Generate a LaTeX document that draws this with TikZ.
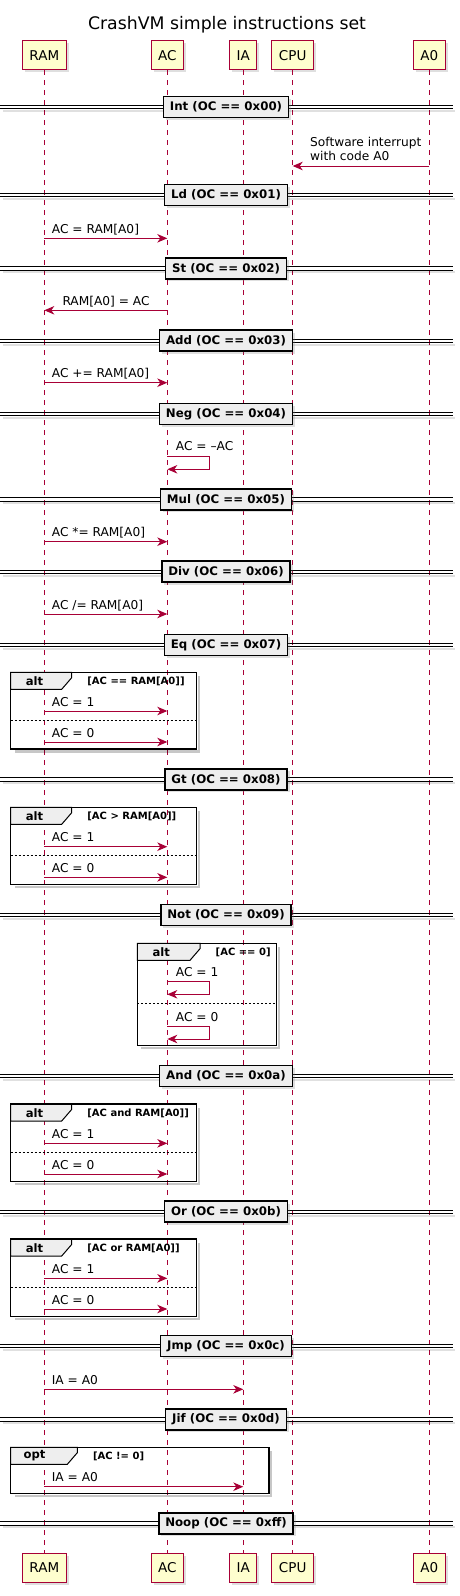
\documentclass[tikz,border=0pt]{standalone}
\usepackage{fontspec}
\setmainfont{DejaVu Sans}
\usetikzlibrary{arrows.meta,shadows}
\definecolor{pred}{HTML}{A80036}
\definecolor{pyel}{HTML}{FEFECE}
\definecolor{pgray}{HTML}{EEEEEE}
\newcommand\fTitle{\fontsize{17.3}{20}\selectfont}
\newcommand\fPart{\fontsize{13.5}{16}\selectfont}
\newcommand\fMsg{\fontsize{12.2}{14.3}\selectfont}
\newcommand\fDiv{\fontsize{11.8}{14}\selectfont\bfseries}
\newcommand\fAlt{\fontsize{11.6}{14}\selectfont\bfseries}
\newcommand\fGuard{\fontsize{10}{12}\selectfont\bfseries}
\tikzset{
  part/.style={draw=pred, fill=pyel, line width=1pt, font=\fPart, inner xsep=7pt, inner ysep=0pt,
    minimum height=29pt, drop shadow={shadow xshift=2.5pt, shadow yshift=-2.5pt, opacity=0.25}},
  life/.style={draw=pred, line width=0.8pt, dash pattern=on 5pt off 5pt},
  msg/.style={draw=pred, line width=1pt, -{Stealth[length=10pt,width=8.5pt,inset=3pt]}},
  msgtxt/.style={anchor=base west, inner sep=0pt, font=\fMsg},
  divbox/.style={draw=black, fill=pgray, line width=1.5pt, font=\fDiv, minimum height=21pt,
    inner xsep=6.5pt, inner ysep=0pt, drop shadow={shadow xshift=2.5pt, shadow yshift=-2.5pt, opacity=0.25}},
  divline/.style={draw=black, line width=0.9pt},
  frame/.style={draw=black, line width=1.5pt},
  frameshadow/.style={draw=black, opacity=0.22, line width=2.2pt},
  tabshape/.style={draw=black, fill=pgray, line width=1pt},
  altsep/.style={draw=black, line width=0.8pt, dash pattern=on 2pt off 2pt},
  alttxt/.style={inner sep=0pt, font=\fAlt},
  guardtxt/.style={anchor=west, inner sep=0pt, font=\fGuard}
}
% divider: name, y, text
\newcommand\Divider[3]{%
  \fill[black,opacity=0.12] (3,#2+3) rectangle (455,#2+4.8);
  \draw[divline] (0,#2-1.7) -- (453,#2-1.7);
  \draw[divline] (0,#2+1.7) -- (453,#2+1.7);
  \node[divbox] (#1) at (226,#2) {#3};
}
% frame: name, left, top, right, bottom, tab right, label, guard
\newcommand\Frame[8]{%
  \draw[frameshadow] (#4+2.5,#3+4) -- (#4+2.5,#5+2.5) -- (#2+4,#5+2.5);
  \filldraw[tabshape] (#2,#3) -- (#6,#3) -- (#6,#3+5.4) -- (#6-10,#3+17) -- (#2,#3+17) -- cycle;
  \draw[frame] (#2,#3) rectangle (#4,#5);
  \node[alttxt] (#1lab) at (#2+24,#3+8.7) {#7};
  \node[guardtxt] (#1grd) at (#6+15.5,#3+9.4) {#8};
}
\begin{document}
\begin{tikzpicture}[x=1pt,y=-1pt]
\useasboundingbox (0,0) rectangle (459,1596);

\node[anchor=base, inner sep=0pt, font=\fTitle] (title) at (227,29.3) {CrashVM simple instructions set};

% participants
\node[part] (ramT) at (44.3,55.2) {RAM};
\node[part] (acT)  at (167.3,55.2) {AC};
\node[part] (iaT)  at (243.3,55.2) {IA};
\node[part] (cpuT) at (292.7,55.2) {CPU};
\node[part] (a0T)  at (429.3,55.2) {A0};
\node[part] (ramB) at (44.3,1568) {RAM};
\node[part] (acB)  at (167.3,1568) {AC};
\node[part] (iaB)  at (243.3,1568) {IA};
\node[part] (cpuB) at (292.7,1568) {CPU};
\node[part] (a0B)  at (429.3,1568) {A0};

% lifelines
\draw[life] (ramT) -- (ramB);
\draw[life] (acT) -- (acB);
\draw[life] (iaT) -- (iaB);
\draw[life] (cpuT) -- (cpuB);
\draw[life] (a0T) -- (a0B);

% Int
\Divider{dInt}{107}{Int (OC == 0x00)}
\draw[msg] (a0T |- 0,166) -- (cpuT |- 0,166);
\node[msgtxt, align=left] (tInt) at (310,160.7) {Software interrupt\\with code A0};

% Ld
\Divider{dLd}{195}{Ld (OC == 0x01)}
\draw[msg] (ramT |- 0,238.3) -- (acT |- 0,238.3);
\node[msgtxt] (tLd) at (51.7,233.3) {AC = RAM[A0]};

% St
\Divider{dSt}{268.3}{St (OC == 0x02)}
\draw[msg] (acT |- 0,310.3) -- (ramT |- 0,310.3);
\node[msgtxt] (tSt) at (62.3,305.3) {RAM[A0] = AC};

% Add
\Divider{dAdd}{340.7}{Add (OC == 0x03)}
\draw[msg] (ramT |- 0,382.7) -- (acT |- 0,382.7);
\node[msgtxt] (tAdd) at (51.7,377.7) {AC += RAM[A0]};

% Neg
\Divider{dNeg}{414}{Neg (OC == 0x04)}
\draw[msg] (acT |- 0,456.7) -- (209.3,456.7) -- (209.3,469.3) -- (acT |- 0,469.3);
\node[msgtxt] (tNeg) at (175.7,450.7) {AC = –AC};

% Mul
\Divider{dMul}{499.3}{Mul (OC == 0x05)}
\draw[msg] (ramT |- 0,541.7) -- (acT |- 0,541.7);
\node[msgtxt] (tMul) at (51.7,536.7) {AC *= RAM[A0]};

% Div
\Divider{dDiv}{571.7}{Div (OC == 0x06)}
\draw[msg] (ramT |- 0,614) -- (acT |- 0,614);
\node[msgtxt] (tDiv) at (51.7,609) {AC /= RAM[A0]};

% Eq
\Divider{dEq}{645}{Eq (OC == 0x07)}
\Frame{fEq}{10.5}{672.3}{196.5}{749}{71.7}{alt}{[AC == RAM[A0]]}
\draw[msg] (ramT |- 0,711) -- (acT |- 0,711);
\node[msgtxt] (tEq1) at (51.7,706) {AC = 1};
\draw[altsep] (10.5,720) -- (196.5,720);
\draw[msg] (ramT |- 0,742) -- (acT |- 0,742);
\node[msgtxt] (tEq0) at (51.7,737) {AC = 0};

% Gt
\Divider{dGt}{779.3}{Gt (OC == 0x08)}
\Frame{fGt}{10.5}{807.3}{196.5}{884.3}{71.7}{alt}{[AC > RAM[A0]]}
\draw[msg] (ramT |- 0,846.7) -- (acT |- 0,846.7);
\node[msgtxt] (tGt1) at (51.7,841.7) {AC = 1};
\draw[altsep] (10.5,855.7) -- (196.5,855.7);
\draw[msg] (ramT |- 0,877.3) -- (acT |- 0,877.3);
\node[msgtxt] (tGt0) at (51.7,872.3) {AC = 0};

% Not
\Divider{dNot}{915}{Not (OC == 0x09)}
\Frame{fNot}{137.3}{943.3}{276.7}{1045.7}{200}{alt}{[AC == 0]}
\draw[msg] (acT |- 0,981.7) -- (209.3,981.7) -- (209.3,994.3) -- (acT |- 0,994.3);
\node[msgtxt] (tNot1) at (175.7,976.7) {AC = 1};
\draw[altsep] (137.3,1003.3) -- (276.7,1003.3);
\draw[msg] (acT |- 0,1026.7) -- (209.3,1026.7) -- (209.3,1039) -- (acT |- 0,1039);
\node[msgtxt] (tNot0) at (175.7,1021.2) {AC = 0};

% And
\Divider{dAnd}{1076}{And (OC == 0x0a)}
\Frame{fAnd}{10.5}{1104}{196.5}{1181.3}{71.7}{alt}{[AC and RAM[A0]]}
\draw[msg] (ramT |- 0,1143.3) -- (acT |- 0,1143.3);
\node[msgtxt] (tAnd1) at (51.7,1138.3) {AC = 1};
\draw[altsep] (10.5,1152.3) -- (196.5,1152.3);
\draw[msg] (ramT |- 0,1174) -- (acT |- 0,1174);
\node[msgtxt] (tAnd0) at (51.7,1169) {AC = 0};

% Or
\Divider{dOr}{1211.7}{Or (OC == 0x0b)}
\Frame{fOr}{10.5}{1239}{196.5}{1316.5}{71.7}{alt}{[AC or RAM[A0]]}
\draw[msg] (ramT |- 0,1278.3) -- (acT |- 0,1278.3);
\node[msgtxt] (tOr1) at (51.7,1273.3) {AC = 1};
\draw[altsep] (10.5,1287.3) -- (196.5,1287.3);
\draw[msg] (ramT |- 0,1309) -- (acT |- 0,1309);
\node[msgtxt] (tOr0) at (51.7,1304) {AC = 0};

% Jmp
\Divider{dJmp}{1346}{Jmp (OC == 0x0c)}
\draw[msg] (ramT |- 0,1389.3) -- (iaT |- 0,1389.3);
\node[msgtxt] (tJmp) at (51.7,1384.3) {IA = A0};

% Jif
\Divider{dJif}{1419.3}{Jif (OC == 0x0d)}
\Frame{fJif}{10.5}{1447.3}{268.8}{1493.7}{77.3}{opt}{[AC != 0]}
\draw[msg] (ramT |- 0,1486.7) -- (iaT |- 0,1486.7);
\node[msgtxt] (tJif) at (51.7,1481.7) {IA = A0};

% Noop
\Divider{dNoop}{1523.3}{Noop (OC == 0xff)}
\end{tikzpicture}
\end{document}
